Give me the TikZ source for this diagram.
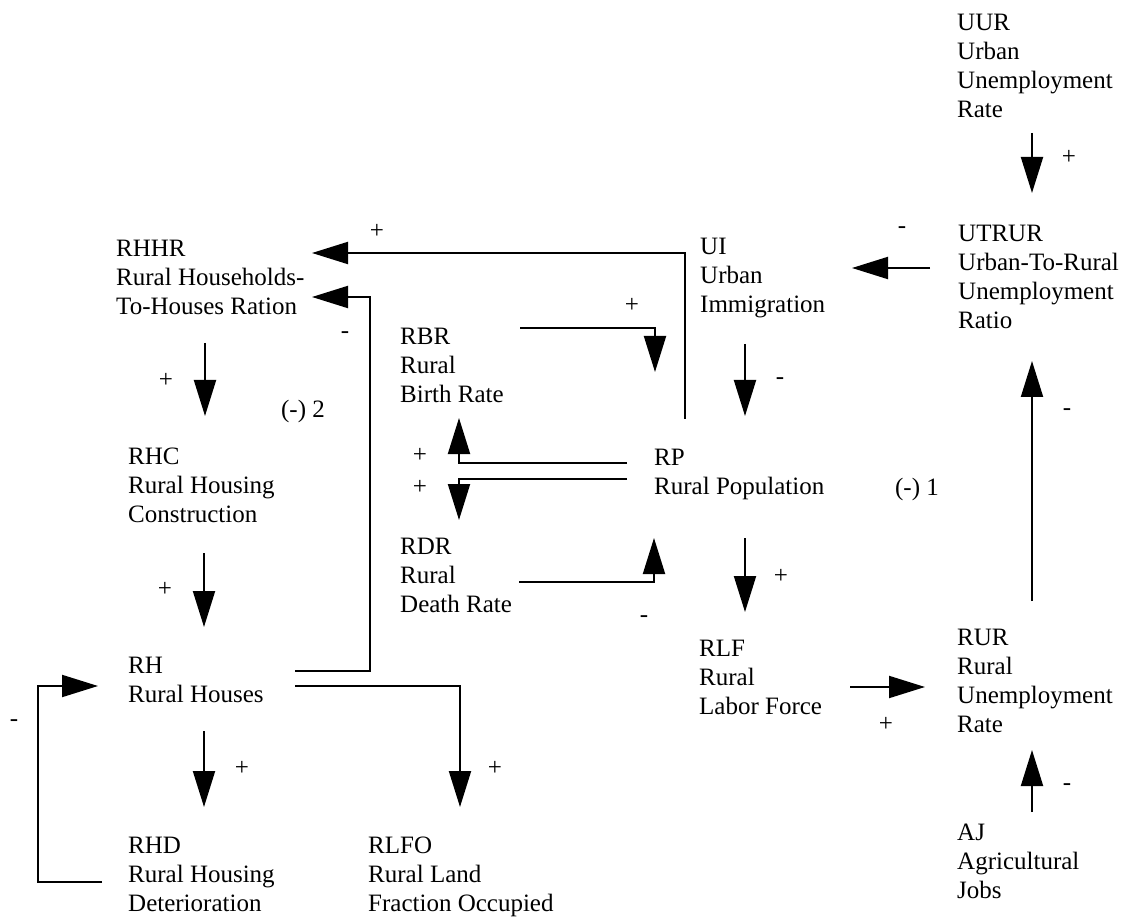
\documentclass[tikz,border=0pt]{standalone}
\usepackage{fontspec}
\setmainfont{Liberation Serif}
\usetikzlibrary{arrows.meta}
\begin{document}
\begin{tikzpicture}[x=1pt,y=-1pt,
  blk/.style={anchor=north west, inner sep=0pt, align=left, font=\fontsize{25}{29}\selectfont},
  sg/.style={inner sep=0pt, font=\fontsize{25}{29}\selectfont},
  arr/.style={line width=2pt, -{Triangle[length=36pt,width=22pt]}}]
\useasboundingbox (0,0) rectangle (1128,917);
% variable blocks
\node[blk] (UUR) at (957,14) {UUR\\Urban\\Unemployment\\Rate};
\node[blk] (UTRUR) at (958,225) {UTRUR\\Urban-To-Rural\\Unemployment\\Ratio};
\node[blk] (RHHR) at (116,240) {RHHR\\Rural Households-\\To-Houses Ration};
\node[blk] (UI) at (700,238) {UI\\Urban\\Immigration};
\node[blk] (RBR) at (400,328) {RBR\\Rural\\Birth Rate};
\node[blk] (RHC) at (128,448) {RHC\\Rural Housing\\Construction};
\node[blk] (RP) at (654,449) {RP\\Rural Population};
\node[blk] (RDR) at (400,538) {RDR\\Rural\\Death Rate};
\node[blk] (RLF) at (699,640) {RLF\\Rural\\Labor Force};
\node[blk] (RUR) at (957,629) {RUR\\Rural\\Unemployment\\Rate};
\node[blk] (RH) at (128,657) {RH\\Rural Houses};
\node[blk] (RHD) at (128,837) {RHD\\Rural Housing\\Deterioration};
\node[blk] (RLFO) at (368,837) {RLFO\\Rural Land\\Fraction Occupied};
\node[blk] (AJ) at (957,824) {AJ\\Agricultural\\Jobs};
% connector end points
\coordinate (uurOut) at (1032,133);   \coordinate (utrurIn) at (1032,193);
\coordinate (utrurOut) at (930,268);  \coordinate (uiIn) at (852,268);
\coordinate (uiOut) at (685,419);     \coordinate (rhhrInA) at (312,253);
\coordinate (rhOutA) at (295,671);    \coordinate (rhhrInB) at (312,297);
\coordinate (rhhrOut) at (205,343);   \coordinate (rhcIn) at (205,416);
\coordinate (rbrOut) at (520,328);    \coordinate (rpInA) at (655,372);
\coordinate (uiOutB) at (745,344);    \coordinate (rpInB) at (745,416);
\coordinate (rpOutA) at (627,463);    \coordinate (rbrIn) at (459,418);
\coordinate (rpOutB) at (627,479);    \coordinate (rdrIn) at (459,520);
\coordinate (rurOut) at (1032,601);   \coordinate (utrurInB) at (1032,361);
\coordinate (rdrOut) at (519,582);    \coordinate (rpInC) at (654,538);
\coordinate (rpOutC) at (745,538);    \coordinate (rlfIn) at (745,612);
\coordinate (rhcOut) at (204,553);    \coordinate (rhIn) at (204,627);
\coordinate (rlfOut) at (850,687);    \coordinate (rurIn) at (925,687);
\coordinate (ajOut) at (1032,812);    \coordinate (rurInB) at (1032,750);
\coordinate (rhOutB) at (204,731);    \coordinate (rhdIn) at (204,807);
\coordinate (rhOutC) at (295,686);    \coordinate (rlfoIn) at (460,807);
\coordinate (rhdOut) at (102,882);    \coordinate (rhInB) at (98,686);
% connectors
\draw[arr] (uurOut) -- (utrurIn);
\draw[arr] (utrurOut) -- (uiIn);
\draw[arr] (uiOut) |- (rhhrInA);
\draw[arr] (rhOutA) -- (370,671) |- (rhhrInB);
\draw[arr] (rhhrOut) -- (rhcIn);
\draw[arr] (rbrOut) -| (rpInA);
\draw[arr] (uiOutB) -- (rpInB);
\draw[arr] (rpOutA) -| (rbrIn);
\draw[arr] (rpOutB) -| (rdrIn);
\draw[arr] (rurOut) -- (utrurInB);
\draw[arr] (rdrOut) -| (rpInC);
\draw[arr] (rpOutC) -- (rlfIn);
\draw[arr] (rhcOut) -- (rhIn);
\draw[arr] (rlfOut) -- (rurIn);
\draw[arr] (ajOut) -- (rurInB);
\draw[arr] (rhOutB) -- (rhdIn);
\draw[arr] (rhOutC) -| (rlfoIn);
\draw[arr] (rhdOut) -- (38,882) |- (rhInB);
% polarity signs and loop labels
\node[sg] (s1) at (1069,157) {+};
\node[sg] (s2) at (902,230) {-};
\node[sg] (s3) at (377,231) {+};
\node[sg] (s4) at (345,335) {-};
\node[sg] (s5) at (632,305) {+};
\node[sg] (s6) at (780,381) {-};
\node[sg] (s7) at (166,380) {+};
\node[sg] (s8) at (303,411) {(-) 2};
\node[sg] (s9) at (420,455) {+};
\node[sg] (s10) at (420,487) {+};
\node[sg] (s11) at (917,489) {(-) 1};
\node[sg] (s12) at (1067,412) {-};
\node[sg] (s13) at (165,589) {+};
\node[sg] (s14) at (781,576) {+};
\node[sg] (s15) at (644,619) {-};
\node[sg] (s16) at (886,724) {+};
\node[sg] (s17) at (14,723) {-};
\node[sg] (s18) at (242,768) {+};
\node[sg] (s19) at (495,768) {+};
\node[sg] (s20) at (1067,787) {-};
\end{tikzpicture}
\end{document}
